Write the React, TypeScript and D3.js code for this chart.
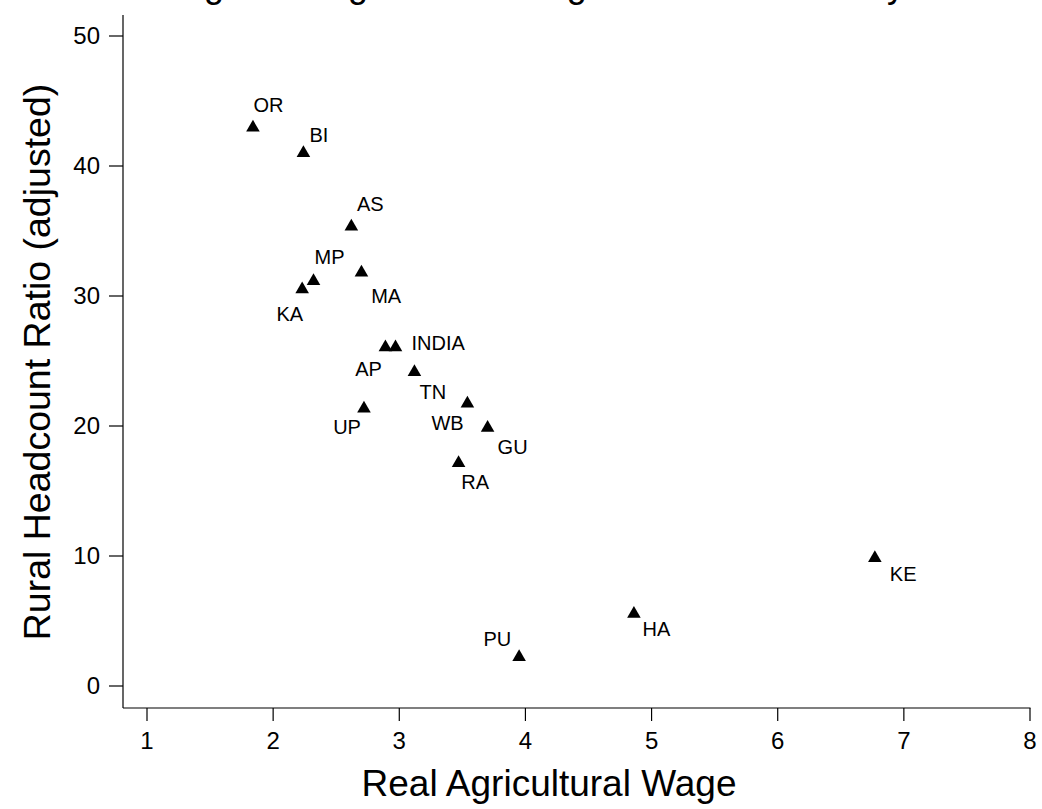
import React from "react";
import * as d3 from "d3";

const states = ["OR", "BI", "AS", "MP", "MA", "KA", "AP", "INDIA", "TN", "UP", "WB", "GU", "RA", "KE", "HA", "PU"];
const wage = [1.84, 2.24, 2.62, 2.32, 2.7, 2.23, 2.89, 2.97, 3.12, 2.72, 3.54, 3.7, 3.47, 6.77, 4.86, 3.95];
const headcount = [43.1, 41.15, 35.5, 31.3, 31.96, 30.67, 26.2, 26.2, 24.3, 21.5, 21.87, 20.02, 17.3, 10.0, 5.7, 2.38];
const xTicks = [1, 2, 3, 4, 5, 6, 7, 8];
const yTicks = [0, 10, 20, 30, 40, 50];

// label placement (style): [dx, dy(baseline), anchor]
const labelPlace: [number, number, string][] = [
  [0.5, -13.5, "start"],
  [6, -9.5, "start"],
  [5.6, -13.3, "start"],
  [1, -14.7, "start"],
  [9.7, 32, "start"],
  [1, 34, "end"],
  [-3.5, 31, "end"],
  [16, 4.3, "start"],
  [5, 29, "start"],
  [-3, 27, "end"],
  [-3.8, 28, "end"],
  [10, 28.6, "start"],
  [2.7, 28, "start"],
  [15, 25, "start"],
  [8.7, 24.3, "start"],
  [-7.8, -9, "end"],
];

const FONT = "'Liberation Sans', Arial, Helvetica, sans-serif";

export default function App() {
  const W = 1042, H = 809;
  const axisX = 123, axisY = 708, axisTop = 15;
  const x = d3.scaleLinear().domain([1, 8]).range([147, 1030]);
  const y = d3.scaleLinear().domain([0, 50]).range([686, 36]);
  const tri = d3.symbol(d3.symbolTriangle, 80)() as string;
  const triShift = 2; // centroid -> bbox centre

  return (
    <svg width={W} height={H} style={{ position: "absolute", left: 0, top: 0, display: "block", background: "#fff" }} fontFamily={FONT}>
      <rect x={0} y={0} width={W} height={H} fill="#fff" />
      <text x={174} y={-3} fontSize={36} fill="#000">Figure 1: Agricultural Wage and Rural Poverty</text>
      {/* axes */}
      <line x1={axisX} x2={axisX} y1={axisTop} y2={axisY} stroke="#000" strokeWidth={1.2} />
      <line x1={axisX} x2={x(8) + 0.5} y1={axisY} y2={axisY} stroke="#000" strokeWidth={1.2} />
      {yTicks.map((t) => (
        <g key={"y" + t}>
          <line x1={axisX - 14} x2={axisX} y1={y(t)} y2={y(t)} stroke="#000" strokeWidth={1.2} />
          <text x={axisX - 23} y={y(t)} dy="0.35em" textAnchor="end" fontSize={24} fill="#000">{t}</text>
        </g>
      ))}
      {xTicks.map((t) => (
        <g key={"x" + t}>
          <line x1={x(t)} x2={x(t)} y1={axisY} y2={axisY + 13} stroke="#000" strokeWidth={1.2} />
          <text x={x(t)} y={749} textAnchor="middle" fontSize={24} fill="#000">{t}</text>
        </g>
      ))}
      <text x={549} y={796} textAnchor="middle" fontSize={37} fill="#000">Real Agricultural Wage</text>
      <text transform={`translate(50,362) rotate(-90)`} textAnchor="middle" fontSize={37.5} fill="#000">Rural Headcount Ratio (adjusted)</text>
      {states.map((s, i) => {
        const cx = x(wage[i]);
        const cy = y(headcount[i]);
        const [dx, dy, anchor] = labelPlace[i];
        return (
          <g key={s}>
            <path d={tri} transform={`translate(${cx},${cy + triShift})`} fill="#000" />
            <text x={cx + dx} y={cy + dy} textAnchor={anchor as any} fontSize={20} fill="#000">{s}</text>
          </g>
        );
      })}
    </svg>
  );
}
